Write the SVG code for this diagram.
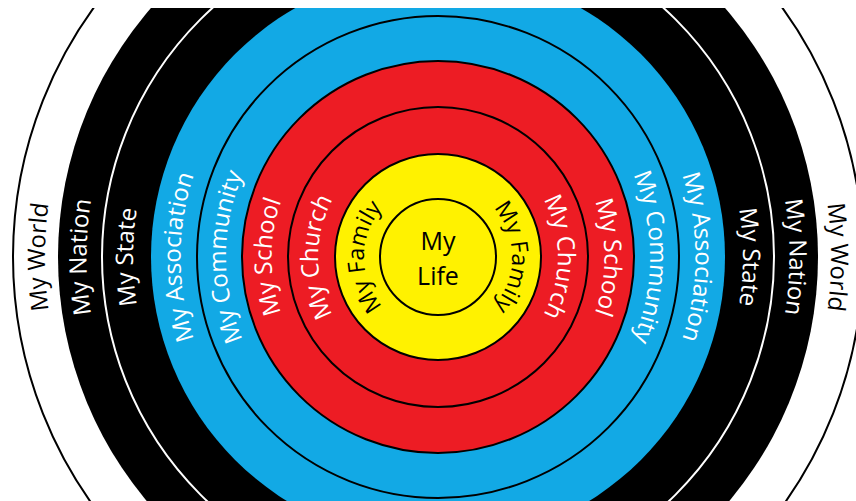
<svg xmlns="http://www.w3.org/2000/svg" width="856" height="501" viewBox="0 0 856 501">
<style>
.lbl{font-family:"Open Sans","Liberation Sans",sans-serif;font-size:24px;text-anchor:middle}
.w{fill:#ffffff}
.k{fill:#000000}
</style>
<defs>
<clipPath id="frame"><rect x="0" y="8" width="856" height="493"/></clipPath>
<path id="p-family" d="M438,331 A74,74 0 1 1 438,183 A74,74 0 1 1 438,331"/>
<path id="p-church" d="M438,377 A120,120 0 1 1 438,137 A120,120 0 1 1 438,377"/>
<path id="p-school" d="M438,423.5 A166.5,166.5 0 1 1 438,90.5 A166.5,166.5 0 1 1 438,423.5"/>
<path id="p-community" d="M438,469 A212,212 0 1 1 438,45 A212,212 0 1 1 438,469"/>
<path id="p-association" d="M438,514.5 A257.5,257.5 0 1 1 438,-0.5 A257.5,257.5 0 1 1 438,514.5"/>
<path id="p-state" d="M438,562 A305,305 0 1 1 438,-48 A305,305 0 1 1 438,562"/>
<path id="p-nation" d="M438,608.5 A351.5,351.5 0 1 1 438,-94.5 A351.5,351.5 0 1 1 438,608.5"/>
<path id="p-world" d="M438,650 A393,393 0 1 1 438,-136 A393,393 0 1 1 438,650"/>
</defs>
<rect width="856" height="501" fill="#ffffff"/>
<g clip-path="url(#frame)">
<g id="world">
<circle cx="438" cy="257" r="425" fill="#ffffff" stroke="#000" stroke-width="2"/>
<text class="lbl k"><textPath href="#p-world" startOffset="25%">My World</textPath></text>
<text class="lbl k"><textPath href="#p-world" startOffset="75%">My World</textPath></text>
</g>
<g id="nation">
<circle cx="438" cy="257" r="380" fill="#000000"/>
<text class="lbl w"><textPath href="#p-nation" startOffset="25%">My Nation</textPath></text>
<text class="lbl w"><textPath href="#p-nation" startOffset="75%">My Nation</textPath></text>
</g>
<g id="state">
<circle cx="438" cy="257" r="336" fill="#000000" stroke="#ffffff" stroke-width="2"/>
<text class="lbl w"><textPath href="#p-state" startOffset="25%">My State</textPath></text>
<text class="lbl w"><textPath href="#p-state" startOffset="75%">My State</textPath></text>
</g>
<g id="association">
<circle cx="438" cy="257" r="287" fill="#12a9e5"/>
<text class="lbl w"><textPath href="#p-association" startOffset="25%">My Association</textPath></text>
<text class="lbl w"><textPath href="#p-association" startOffset="75%">My Association</textPath></text>
</g>
<g id="community">
<circle cx="438" cy="257" r="241" fill="#12a9e5" stroke="#000" stroke-width="2"/>
<text class="lbl w"><textPath href="#p-community" startOffset="25%">My Community</textPath></text>
<text class="lbl w"><textPath href="#p-community" startOffset="75%">My Community</textPath></text>
</g>
<g id="school">
<circle cx="438" cy="257" r="196" fill="#ed1c24" stroke="#000" stroke-width="2"/>
<text class="lbl w"><textPath href="#p-school" startOffset="25%">My School</textPath></text>
<text class="lbl w"><textPath href="#p-school" startOffset="75%">My School</textPath></text>
</g>
<g id="church">
<circle cx="438" cy="257" r="150" fill="#ed1c24" stroke="#000" stroke-width="2"/>
<text class="lbl w"><textPath href="#p-church" startOffset="25%">My Church</textPath></text>
<text class="lbl w"><textPath href="#p-church" startOffset="75%">My Church</textPath></text>
</g>
<g id="family">
<circle cx="438" cy="257" r="103" fill="#fff200" stroke="#000" stroke-width="2"/>
<text class="lbl k" style="font-size:23px"><textPath href="#p-family" startOffset="25%">My Family</textPath></text>
<text class="lbl k" style="font-size:23px"><textPath href="#p-family" startOffset="75%">My Family</textPath></text>
</g>
<g id="life">
<circle cx="438" cy="257" r="58" fill="#fff200" stroke="#000" stroke-width="2"/>
<text class="lbl k" x="438" y="250" style="font-size:25px">My</text>
<text class="lbl k" x="438" y="285" style="font-size:25px">Life</text>
</g>
</g>
</svg>
